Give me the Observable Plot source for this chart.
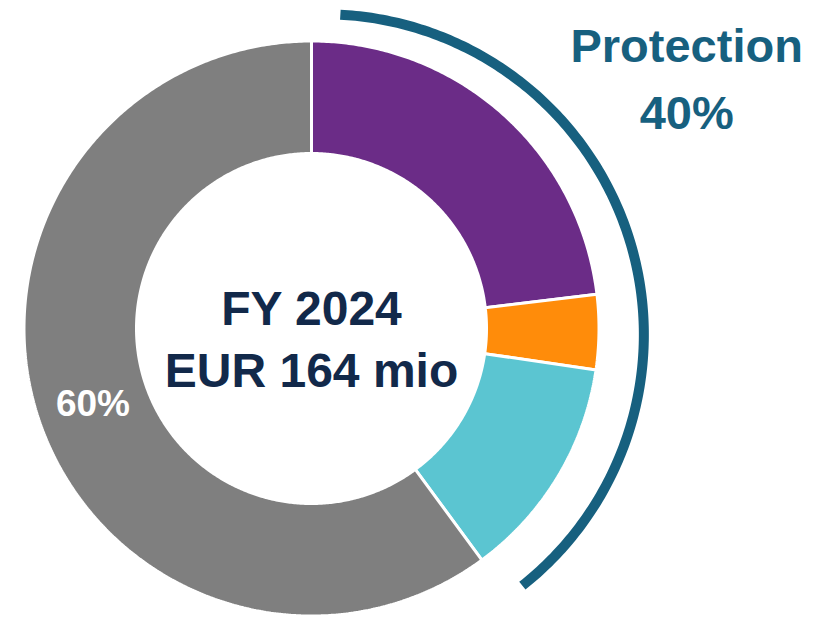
<!DOCTYPE html>
<html>
<head>
<meta charset="utf-8">
<script src="https://cdn.jsdelivr.net/npm/d3@7"></script>
<script src="https://cdn.jsdelivr.net/npm/@observablehq/plot@0.6"></script>
<style>
  html, body { margin: 0; padding: 0; background: #fff; }
  #chart svg { display: block; }
</style>
</head>
<body>
<div id="chart"></div>
<script>
// ---- data ----
const categories = ["Protection A", "Protection B", "Protection C", "Other"];
const shares = [23.1, 4.2, 12.6, 60.1];
const colors = ["#6b2c87", "#ff8c0a", "#5bc5d1", "#7f7f7f"];
const groupName = "Protection";
const groupMembers = ["Protection A", "Protection B", "Protection C"];
const centerLines = ["FY 2024", "EUR 164 mio"];
const otherLabel = "60%";

// ---- geometry built from the data ----
const innerRatio = 175 / 287.5;
const total = d3.sum(shares);
const slicePts = [];
let cum = 0;
categories.forEach((name, i) => {
  const a0 = cum / total * 2 * Math.PI;
  cum += shares[i];
  const a1 = cum / total * 2 * Math.PI;
  const n = Math.max(2, Math.ceil((a1 - a0) * 180 / Math.PI / 0.5));
  const pts = [];
  for (let j = 0; j <= n; j++) {
    const a = a0 + (a1 - a0) * j / n;
    pts.push({name, x: Math.sin(a), y: Math.cos(a)});
  }
  for (let j = n; j >= 0; j--) {
    const a = a0 + (a1 - a0) * j / n;
    pts.push({name, x: innerRatio * Math.sin(a), y: innerRatio * Math.cos(a)});
  }
  pts.push({...pts[0]});
  slicePts.push(...pts);
});

// bracket arc around the protection group
const groupShare = d3.sum(categories.map((c, i) => groupMembers.includes(c) ? shares[i] : 0));
const arcCenter = {x: 0.042, y: -0.021}, arcR = 1.114;
const arcStart = 3 * Math.PI / 180;
const arcEnd = groupShare / total * 2 * Math.PI - 2 * Math.PI / 180;
const arcPts = d3.range(0, 201).map(j => {
  const a = arcStart + (arcEnd - arcStart) * j / 200;
  return {x: arcCenter.x + arcR * Math.sin(a), y: arcCenter.y + arcR * Math.cos(a)};
});

const font = "'Liberation Sans', Arial, Helvetica, sans-serif";

const chart = Plot.plot({
  width: 827,
  height: 617,
  margin: 0,
  style: {fontFamily: font, background: "#fff"},
  x: {domain: [-1, 1], range: [23.5, 598.5], axis: null},
  y: {domain: [-1, 1], range: [615.5, 40.5], axis: null},
  color: {domain: categories, range: colors},
  marks: [
    Plot.line(slicePts, {x: "x", y: "y", z: "name", fill: "name", stroke: "#fff", strokeWidth: 3, strokeLinejoin: "miter"}),
    Plot.line(arcPts, {x: "x", y: "y", stroke: "#17607f", strokeWidth: 10, strokeLinecap: "butt"}),
    Plot.text([groupName], {x: 1.305, y: 0.978, text: d => d, fontSize: 47, fontWeight: "bold", fill: "#17607f", textAnchor: "middle"}),
    Plot.text([Math.round(groupShare) + "%"], {x: 1.305, y: 0.745, text: d => d, fontSize: 47, fontWeight: "bold", fill: "#17607f", textAnchor: "middle"}),
    Plot.text([centerLines[0]], {x: 0, y: 0.066, text: d => d, fontSize: 48, fontWeight: "bold", fill: "#12294a", textAnchor: "middle"}),
    Plot.text([centerLines[1]], {x: 0, y: -0.150, text: d => d, fontSize: 48, fontWeight: "bold", fill: "#12294a", textAnchor: "middle"}),
    Plot.text([otherLabel], {x: -0.76, y: -0.262, text: d => d, fontSize: 37, fontWeight: "bold", fill: "#fff", textAnchor: "middle"})
  ]
});
document.getElementById("chart").appendChild(chart);
</script>
</body>
</html>
